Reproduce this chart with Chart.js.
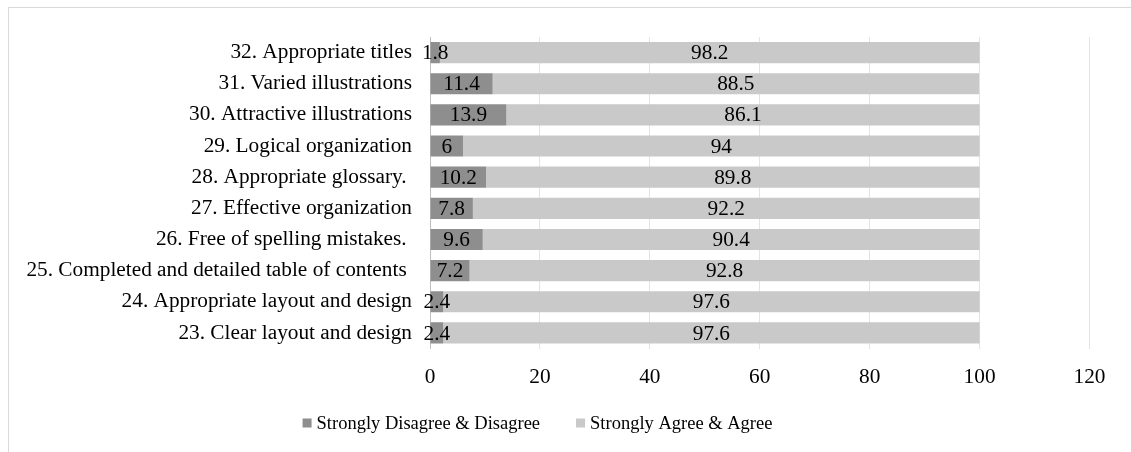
<!DOCTYPE html>
<html>
<head>
  <title>Survey Responses</title>
  <script src="https://cdn.jsdelivr.net/npm/chart.js"></script>
  <style>
    html, body {
      margin: 0;
      padding: 0;
      background: #fff;
      overflow: hidden;
    }
    .frame {
      position: absolute;
      left: 8px;
      top: 7px;
      width: 1200px;
      height: 500px;
      border: 1px solid #d9d9d9;
    }
    canvas {
      position: absolute;
      left: 0;
      top: 0;
    }
  </style>
</head>
<body>
  <div class="frame"></div>
  <canvas id="surveyChart" width="1131" height="452"></canvas>

  <script>
    const categories = [
      "32. Appropriate titles",
      "31. Varied illustrations",
      "30. Attractive illustrations",
      "29. Logical organization",
      "28. Appropriate glossary. ",
      "27. Effective organization",
      "26. Free of spelling mistakes. ",
      "25. Completed and detailed table of contents ",
      "24. Appropriate layout and design",
      "23. Clear layout and design"
    ];
    const disagree = [1.8, 11.4, 13.9, 6, 10.2, 7.8, 9.6, 7.2, 2.4, 2.4];
    const agree = [98.2, 88.5, 86.1, 94, 89.8, 92.2, 90.4, 92.8, 97.6, 97.6];
    const seriesNames = ["Strongly Disagree & Disagree", "Strongly Agree & Agree"];
    const xTicks = [0, 20, 40, 60, 80, 100, 120];

    const serif = "'Liberation Serif', 'Times New Roman', serif";

    // value labels centred inside each segment
    const barLabels = {
      id: 'barLabels',
      afterDatasetsDraw(chart) {
        const ctx = chart.ctx;
        ctx.save();
        ctx.font = '21.3px ' + serif;
        ctx.fillStyle = '#000';
        ctx.textAlign = 'center';
        ctx.textBaseline = 'middle';
        chart.data.datasets.forEach((ds, i) => {
          chart.getDatasetMeta(i).data.forEach((bar, j) => {
            const cx = (bar.x + bar.base) / 2;
            ctx.fillText(String(ds.data[j]), cx, bar.y + 1);
          });
        });
        ctx.restore();
      }
    };

    // legend drawn by hand so the spacing matches
    const bottomLegend = {
      id: 'bottomLegend',
      afterDraw(chart) {
        const ctx = chart.ctx;
        const box = 9, gap = 5, between = 36, y = 423, center = 537.5;
        ctx.save();
        ctx.font = '18.5px ' + serif;
        ctx.textBaseline = 'middle';
        ctx.textAlign = 'left';
        const items = chart.data.datasets.map(ds => ({
          text: ds.label,
          color: ds.backgroundColor,
          w: box + gap + ctx.measureText(ds.label).width
        }));
        const total = items.reduce((s, it) => s + it.w, 0) + between * (items.length - 1);
        let x = center - total / 2;
        items.forEach(it => {
          ctx.fillStyle = it.color;
          ctx.fillRect(x, y - box / 2, box, box);
          ctx.fillStyle = '#000';
          ctx.fillText(it.text, x + box + gap, y + 1);
          x += it.w + between;
        });
        ctx.restore();
      }
    };

    new Chart(document.getElementById('surveyChart').getContext('2d'), {
      type: 'bar',
      data: {
        labels: categories,
        datasets: [
          { label: seriesNames[0], data: disagree, backgroundColor: '#8e8e8e' },
          { label: seriesNames[1], data: agree, backgroundColor: '#c9c9c9' }
        ]
      },
      options: {
        indexAxis: 'y',
        responsive: false,
        animation: false,
        devicePixelRatio: 1,
        categoryPercentage: 1,
        barPercentage: 0.68,
        layout: { padding: { left: 0, right: 41.5, top: 37, bottom: 53.5 } },
        plugins: {
          legend: { display: false },
          tooltip: { enabled: false }
        },
        scales: {
          x: {
            stacked: true,
            min: 0,
            max: 120,
            afterBuildTicks: s => { s.ticks = xTicks.map(v => ({ value: v })); },
            afterFit: s => { s.height = 50; },
            grid: { color: '#e3e3e3', drawTicks: false },
            border: { display: false },
            ticks: { font: { family: serif, size: 21.3 }, color: '#000', padding: 16 }
          },
          y: {
            stacked: true,
            afterFit: s => { s.width = 430; },
            grid: { drawOnChartArea: false, drawTicks: false },
            border: { color: '#bfbfbf', width: 1 },
            ticks: { font: { family: serif, size: 21.3 }, color: '#000', padding: 18 }
          }
        }
      },
      plugins: [barLabels, bottomLegend]
    });
  </script>
</body>
</html>
